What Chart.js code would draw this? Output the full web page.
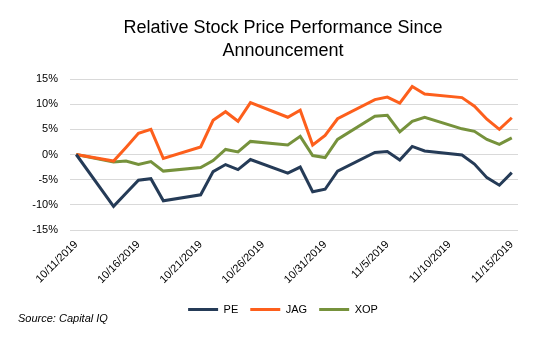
<!DOCTYPE html>
<html>
<head>
<meta charset="utf-8">
<title>Relative Stock Price Performance</title>
<script src="https://cdn.jsdelivr.net/npm/chart.js@4.4.1/dist/chart.umd.min.js"></script>
<style>
  body { margin: 0; background: #fff; }
  .wrap { position: relative; width: 553px; height: 339px; }
  .source {
    position: absolute; left: 18px; top: 312px;
    font: italic 11px "Liberation Sans", Arial, sans-serif; color: #000;
  }
</style>
</head>
<body>
<div class="wrap">
  <canvas id="perfChart" width="553" height="339"></canvas>
  <div class="source">Source: Capital IQ</div>
</div>
<script>
// 交易日：距 10/11/2019 的天數
const days = [0, 3, 4, 5, 6, 7, 10, 11, 12, 13, 14, 17, 18, 19, 20, 21, 24, 25, 26, 27, 28, 31, 32, 33, 34, 35];

// 相對報酬 (%)
const pe  = [0, -10.3, -7.7, -5.1, -4.8, -9.2, -8.0, -3.4, -2.0, -3.0, -1.0, -3.7, -2.5, -7.4, -6.9, -3.3, 0.4, 0.6, -1.1, 1.6, 0.7, -0.1, -1.9, -4.6, -6.1, -3.6];
const jag = [0, -1.3, 1.4, 4.2, 5.0, -0.8, 1.5, 6.8, 8.5, 6.6, 10.3, 7.4, 8.8, 1.9, 3.8, 7.1, 10.9, 11.4, 10.2, 13.5, 12.0, 11.3, 9.6, 7.0, 5.0, 7.3];
const xop = [0, -1.5, -1.3, -2.0, -1.4, -3.3, -2.6, -1.2, 1.0, 0.5, 2.6, 1.9, 3.6, -0.2, -0.6, 3.0, 7.6, 7.8, 4.5, 6.6, 7.4, 5.1, 4.6, 3.0, 2.0, 3.3];

// x 軸刻度（每 5 天一個）
const tickDays = [0, 5, 10, 15, 20, 25, 30, 35];
const yTicks = [-15, -10, -5, 0, 5, 10, 15];

const FONT = '"Liberation Sans", Arial, sans-serif';

function dayLabel(d) {
    const dt = new Date(2019, 9, 11 + d);
    return `${dt.getMonth() + 1}/${dt.getDate()}/${dt.getFullYear()}`;
}

function series(label, values, color) {
    return {
        label: label,
        data: values.map((v, i) => ({ x: days[i], y: v })),
        borderColor: color,
        backgroundColor: color,
        borderWidth: 3,
        pointRadius: 0,
        tension: 0,
        fill: false
    };
}

const ctx = document.getElementById('perfChart').getContext('2d');

new Chart(ctx, {
    type: 'line',
    data: {
        datasets: [
            series('PE', pe, '#253b57'),
            series('JAG', jag, '#fd5f1c'),
            series('XOP', xop, '#76923c')
        ]
    },
    options: {
        responsive: false,
        animation: false,
        // 左右不對稱的留白讓標題置中於繪圖區上方
        layout: { padding: { left: 24, right: 11, top: 0, bottom: 14 } },
        plugins: {
            title: {
                display: true,
                text: ['Relative Stock Price Performance Since', 'Announcement'],
                color: '#000',
                font: { family: FONT, size: 18, weight: 'normal', lineHeight: 1.25 },
                padding: { top: 17, bottom: 17 }
            },
            legend: {
                position: 'bottom',
                labels: {
                    color: '#000',
                    font: { family: FONT, size: 11 },
                    boxWidth: 30,
                    boxHeight: 3,
                    padding: 12,
                    generateLabels: chart =>
                        Chart.defaults.plugins.legend.labels.generateLabels(chart)
                            .map(item => ({ ...item, lineWidth: 0 }))
                }
            },
            tooltip: { enabled: false }
        },
        scales: {
            x: {
                type: 'linear',
                min: -0.5,
                max: 35.5,
                grid: { display: false },
                border: { display: false },
                afterBuildTicks: axis => {
                    axis.ticks = tickDays.map(v => ({ value: v }));
                },
                afterFit: axis => { axis.height = 62; },
                ticks: {
                    autoSkip: false,
                    minRotation: 45,
                    maxRotation: 45,
                    padding: 0,
                    color: '#000',
                    font: { family: FONT, size: 11 },
                    callback: v => dayLabel(v)
                }
            },
            y: {
                min: -15,
                max: 15,
                afterBuildTicks: axis => {
                    axis.ticks = yTicks.map(v => ({ value: v }));
                },
                afterFit: axis => { axis.width = 46; },
                grid: { color: '#d9d9d9', lineWidth: 1, drawTicks: false },
                border: { display: false },
                ticks: {
                    padding: 12,
                    color: '#000',
                    font: { family: FONT, size: 11 },
                    callback: v => v + '%'
                }
            },
            // 右側空白軸，只用來佔位
            spacer: {
                position: 'right',
                min: 0,
                max: 1,
                grid: { display: false },
                border: { display: false },
                ticks: { display: false },
                afterFit: axis => { axis.width = 24; }
            }
        }
    }
});
</script>
</body>
</html>
